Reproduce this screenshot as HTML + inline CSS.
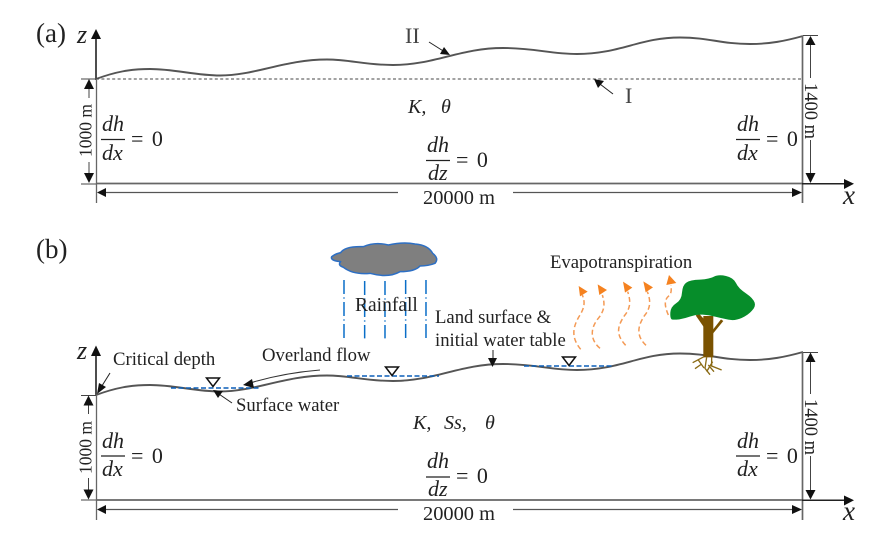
<!DOCTYPE html>
<html><head><meta charset="utf-8"><style>
html,body{margin:0;padding:0;background:#fff}
svg{display:block}
text{font-family:"Liberation Serif",serif;fill:#222}
.m{font-style:italic;font-size:22px}
.n{font-size:22px;word-spacing:3px}
.l{font-size:18.7px}
.d{font-size:18.5px}
.w{font-size:20.4px}
</style></head><body>
<svg width="895" height="537" viewBox="0 0 895 537" xmlns="http://www.w3.org/2000/svg">
<defs>
<path id="curve" d="M96 79 C115 72,130 69,150 69 C175 69,195 75.5,220 75.5 C255 75.5,285 59.5,327 59.5 C350 59.5,365 65,393 65 C435 65,460 48,503 48 C535 48,550 54,577 54 C620 54,640 37.5,680 37.5 C710 37.5,720 44,750 44 C770 44,785 41,803 36"/>
</defs>

<!-- Panel a -->
<text x="36" y="42" font-size="27">(a)</text>
<text x="77" y="43" font-size="26" style="font-style:italic">z</text>
<path d="M96 36V80" stroke="#222" stroke-width="1.6"/>
<path d="M96 29L91 39H101Z" fill="#111"/>
<use href="#curve" fill="none" stroke="#555" stroke-width="1.9"/>
<path d="M96 79H803" stroke="#444" stroke-width="1" stroke-dasharray="3 2.4"/>
<path d="M96.500 79V203" stroke="#666" stroke-width="1.3"/>
<path d="M96 183.500H803" stroke="#666" stroke-width="1.8"/>
<path d="M802.500 36V203" stroke="#666" stroke-width="1.7"/>
<path d="M802 183.800H845" stroke="#222" stroke-width="1.5"/>
<path d="M854 183.800L844 179V189Z" fill="#111"/>
<text x="843" y="204" font-size="27" style="font-style:italic">x</text>
<path d="M81 79H96M81 184H96M803 35.500H818" stroke="#444" stroke-width="1"/>
<path d="M89 89V98M89 162V174" stroke="#444" stroke-width="1"/>
<path d="M89 79L84 89H94ZM89 183L84 173H94Z" fill="#111"/>
<text transform="translate(91.500,157) rotate(-90)" font-size="17.500">1000 m</text>
<path d="M810.500 45V78M810.500 140V174" stroke="#444" stroke-width="1"/>
<path d="M810.500 36L805.500 45H815.500ZM810.500 183L805.500 173H815.500Z" fill="#111"/>
<text transform="translate(805,83) rotate(90)" class="d">1400 m</text>
<path d="M106 192.500H398M513 192.500H794" stroke="#555" stroke-width="1.2"/>
<path d="M97 192.500L106 188V197ZM802 192.500L792 188V197Z" fill="#111"/>
<text x="423" y="204" class="w">20000 m</text>
<text x="405" y="43" font-size="22" style="fill:#444">II</text>
<path d="M429 42L448 54" stroke="#222" stroke-width="1"/>
<path d="M450 55L440 54L444 47Z" fill="#111"/>
<text x="625" y="103" font-size="22" style="fill:#444">I</text>
<path d="M613 94L596 81" stroke="#222" stroke-width="1"/>
<path d="M594 79L604 81L598 88Z" fill="#111"/>
<text x="408" y="113" font-size="20" style="font-style:italic">K,</text>
<text x="441" y="113" font-size="20" style="font-style:italic">θ</text>

<text x="102" y="131" class="m">dh</text><path d="M101 139.500H125" stroke="#222" stroke-width="1.2"/><text x="102" y="160" class="m">dx</text><text x="131" y="146" class="n">= 0</text>
<text x="737" y="131" class="m">dh</text><path d="M736 139.500H760" stroke="#222" stroke-width="1.2"/><text x="737" y="160" class="m">dx</text><text x="766" y="146" class="n">= 0</text>
<text x="427" y="152" class="m">dh</text><path d="M426 160.500H450" stroke="#222" stroke-width="1.2"/><text x="428" y="180" class="m">dz</text><text x="456" y="167" class="n">= 0</text>

<!-- Panel b -->
<text x="36" y="258" font-size="27">(b)</text>
<text x="77" y="359" font-size="26" style="font-style:italic">z</text>
<path d="M96 352V396" stroke="#222" stroke-width="1.6"/>
<path d="M96 345.500L91 356H101Z" fill="#111"/>
<use href="#curve" y="316" fill="none" stroke="#555" stroke-width="1.9"/>
<path d="M96.500 395V520" stroke="#666" stroke-width="1.3"/>
<path d="M96 500H803" stroke="#666" stroke-width="1.8"/>
<path d="M802.500 352V520" stroke="#666" stroke-width="1.7"/>
<path d="M802 500.300H845" stroke="#222" stroke-width="1.5"/>
<path d="M854 500.300L844 495.500V505.500Z" fill="#111"/>
<text x="843" y="520" font-size="27" style="font-style:italic">x</text>
<path d="M81 395.500H96M81 500H96M803 352.500H818" stroke="#444" stroke-width="1"/>
<path d="M88.500 405V414M88.500 478V490" stroke="#444" stroke-width="1"/>
<path d="M88.500 395.500L83.500 405.500H93.500ZM88.500 499.500L83.500 489.500H93.500Z" fill="#111"/>
<text transform="translate(91.500,474) rotate(-90)" font-size="17.500">1000 m</text>
<path d="M810.500 362V394M810.500 456V491" stroke="#444" stroke-width="1"/>
<path d="M810.500 352.500L805.500 362H815.500ZM810.500 499.500L805.500 490H815.500Z" fill="#111"/>
<text transform="translate(805,399) rotate(90)" class="d">1400 m</text>
<path d="M106 509.500H398M513 509.500H794" stroke="#555" stroke-width="1.2"/>
<path d="M97 509.500L106 505V514ZM802 509.500L792 505V514Z" fill="#111"/>
<text x="423" y="520" class="w">20000 m</text>
<text x="413" y="429" font-size="20" style="font-style:italic">K,</text>
<text x="444" y="429" font-size="20" style="font-style:italic">Ss,</text>
<text x="485" y="429" font-size="20" style="font-style:italic">θ</text>

<text x="102" y="448" class="m">dh</text><path d="M101 456H125" stroke="#222" stroke-width="1.2"/><text x="102" y="476" class="m">dx</text><text x="131" y="463" class="n">= 0</text>
<text x="737" y="448" class="m">dh</text><path d="M736 456H760" stroke="#222" stroke-width="1.2"/><text x="737" y="476" class="m">dx</text><text x="766" y="463" class="n">= 0</text>
<text x="427" y="468" class="m">dh</text><path d="M426 477H450" stroke="#222" stroke-width="1.2"/><text x="428" y="496" class="m">dz</text><text x="456" y="483" class="n">= 0</text>

<!-- Surface water dashes -->
<path d="M171 388H260M347 376H439M524 366H614" stroke="#0b5fb8" stroke-width="1.6" stroke-dasharray="5 2.500" fill="none"/>
<path d="M206.500 378H219.500L213 386.500ZM385.500 367H398.500L392 375.500ZM562.500 357H575.500L569 365.500Z" fill="#fff" stroke="#111" stroke-width="1.500"/>

<text x="113" y="365" class="l">Critical depth</text>
<path d="M110 373L100 389" stroke="#222" stroke-width="1"/>
<path d="M97 394L99 383L106 387Z" fill="#111"/>
<text x="236" y="411" class="l">Surface water</text>
<path d="M232 403L216 392" stroke="#222" stroke-width="1"/>
<path d="M213 390L223 391L218 398Z" fill="#111"/>
<text x="262" y="361" class="l">Overland flow</text>
<path d="M320 370C295 372,270 377,250 383" stroke="#333" stroke-width="1" fill="none"/>
<path d="M243 385L252 379L254 388Z" fill="#111"/>
<text x="435" y="323" class="l">Land surface &amp;</text>
<text x="435" y="346" class="l">initial water table</text>
<path d="M493 350V360" stroke="#222" stroke-width="1"/>
<path d="M492.500 367L488 358H497Z" fill="#111"/>
<text x="550" y="268" class="l">Evapotranspiration</text>

<!-- Rain + cloud -->
<g transform="translate(300,230) scale(.3333)">
<path d="M132 150V325M194 153V325M255 153V325M317 150V325M378 150V325" stroke="#0a6ec8" stroke-width="4.500" stroke-dasharray="42 10 4 10" fill="none"/>
<path d="M122 68Q135 48 190 50Q225 35 265 45Q310 35 345 42Q385 45 398 70Q418 85 405 100Q385 108 360 108Q345 125 300 125Q265 145 210 130Q160 135 130 112Q112 105 122 95Q90 92 95 80Q105 72 122 68Z" fill="#7f7f7f" stroke="#2d6fc4" stroke-width="4.500" stroke-linejoin="round"/>
</g>
<text x="355" y="311" font-size="19.500">Rainfall</text>

<!-- Evapotranspiration arrows + tree -->
<g transform="translate(530,240) scale(.3333)">
<g fill="none" stroke="#f49a55" stroke-width="4.500" stroke-dasharray="15 9">
<path d="M152 328C125 295,125 265,150 225C165 200,165 185,157 165"/>
<path d="M210 325C180 300,180 265,205 235C225 210,225 190,217 165"/>
<path d="M287 316C258 285,260 260,285 225C305 200,300 175,293 155"/>
<path d="M348 316C320 290,320 260,345 225C365 200,360 175,352 155"/>
<path d="M415 225C400 190,405 175,420 165C425 155,424 145,423 135"/>
</g>
<path d="M146 138L173 155L150 169ZM203 133L231 150L208 165ZM279 125L307 143L285 158ZM340 124L369 142L347 157ZM417 105L439 129L409 135Z" fill="#f58220"/>
<path d="M520 352V228H550V352Z" fill="#7a5200"/>
<path d="M522 262L497 226L508 222L530 246ZM548 270L573 238L580 243L548 282Z" fill="#7a5200"/>
<path d="M421 218Q422 200 438 190Q455 180 456 158Q458 135 469 128Q480 120 510 119Q540 117 552 110Q565 103 588 108Q610 113 618 129Q625 145 648 160Q670 175 674 188Q678 200 666 212Q655 225 635 234Q615 243 595 239Q575 235 555 230Q535 225 518 224Q500 223 482 229Q465 235 448 238Q430 240 425 238Q420 235 421 218Z" fill="#068d2a"/>
<path d="M522 350L488 368M505 360L522 384M530 352L525 385L540 404M545 352L545 378L575 390M548 365L530 395M535 375L552 395M515 372L495 386" stroke="#8a6a14" stroke-width="4" fill="none"/>
</g>
</svg>
</body></html>
